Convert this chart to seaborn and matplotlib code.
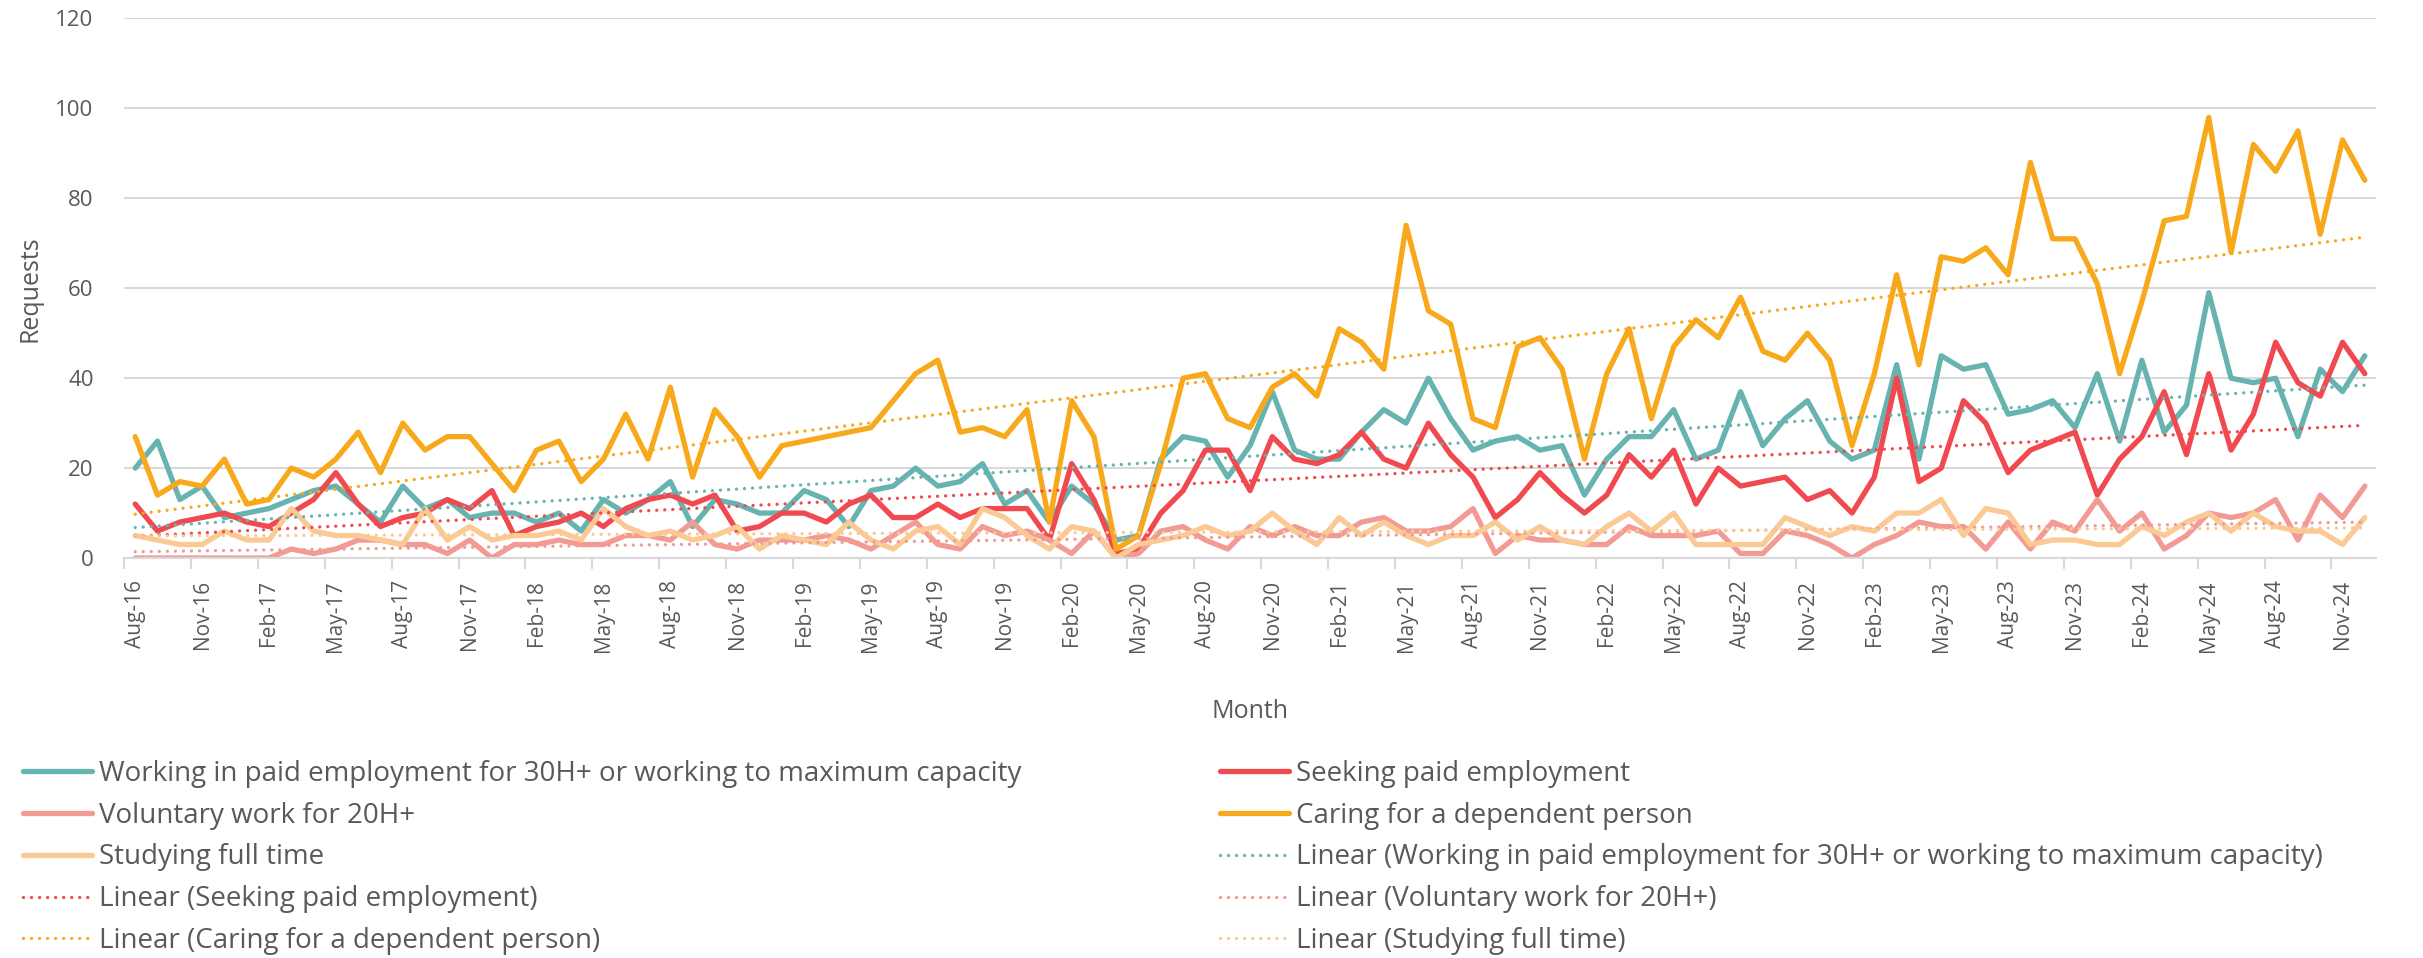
import numpy as np
import pandas as pd
import matplotlib
matplotlib.use("Agg")
import matplotlib.pyplot as plt
import seaborn as sns
from matplotlib.lines import Line2D


# ============================================================
# Data (monthly requests, Aug-16 .. Dec-24)
# ============================================================

months = pd.date_range("2016-08-01", "2024-12-01", freq="MS")
month_labels = [m.strftime("%b-%y") for m in months]

working = [20, 26, 13, 16, 9, 10, 11, 13, 15, 16, 12, 8, 16, 11, 13, 9, 10,
           10, 8, 10, 6, 13, 10, 13, 17, 7, 13, 12, 10, 10, 15, 13, 7, 15,
           16, 20, 16, 17, 21, 12, 15, 8, 16, 12, 4, 5, 22, 27, 26, 18, 25,
           37, 24, 22, 22, 28, 33, 30, 40, 31, 24, 26, 27, 24, 25, 14, 22, 27,
           27, 33, 22, 24, 37, 25, 31, 35, 26, 22, 24, 43, 22, 45, 42, 43, 32,
           33, 35, 29, 41, 26, 44, 28, 34, 59, 40, 39, 40, 27, 42, 37, 45]

seeking = [12, 6, 8, 9, 10, 8, 7, 10, 13, 19, 12, 7, 9, 10, 13, 11, 15,
           5, 7, 8, 10, 7, 11, 13, 14, 12, 14, 6, 7, 10, 10, 8, 12, 14,
           9, 9, 12, 9, 11, 11, 11, 4, 21, 13, 1, 2, 10, 15, 24, 24, 15,
           27, 22, 21, 23, 28, 22, 20, 30, 23, 18, 9, 13, 19, 14, 10, 14, 23,
           18, 24, 12, 20, 16, 17, 18, 13, 15, 10, 18, 40, 17, 20, 35, 30, 19,
           24, 26, 28, 14, 22, 27, 37, 23, 41, 24, 32, 48, 39, 36, 48, 41]

voluntary = [0, 0, 0, 0, 0, 0, 0, 2, 1, 2, 4, 4, 3, 3, 1, 4, 0,
             3, 3, 4, 3, 3, 5, 5, 4, 8, 3, 2, 4, 4, 4, 5, 4, 2,
             5, 8, 3, 2, 7, 5, 6, 4, 1, 6, 0, 1, 6, 7, 4, 2, 7,
             5, 7, 5, 5, 8, 9, 6, 6, 7, 11, 1, 5, 4, 4, 3, 3, 7,
             5, 5, 5, 6, 1, 1, 6, 5, 3, 0, 3, 5, 8, 7, 7, 2, 8,
             2, 8, 6, 13, 6, 10, 2, 5, 10, 9, 10, 13, 4, 14, 9, 16]

caring = [27, 14, 17, 16, 22, 12, 13, 20, 18, 22, 28, 19, 30, 24, 27, 27, 21,
          15, 24, 26, 17, 22, 32, 22, 38, 18, 33, 27, 18, 25, 26, 27, 28, 29,
          35, 41, 44, 28, 29, 27, 33, 8, 35, 27, 2, 5, 21, 40, 41, 31, 29,
          38, 41, 36, 51, 48, 42, 74, 55, 52, 31, 29, 47, 49, 42, 22, 41, 51,
          31, 47, 53, 49, 58, 46, 44, 50, 44, 25, 41, 63, 43, 67, 66, 69, 63,
          88, 71, 71, 61, 41, 57, 75, 76, 98, 68, 92, 86, 95, 72, 93, 84]

studying = [5, 4, 3, 3, 6, 4, 4, 11, 6, 5, 5, 4, 3, 11, 4, 7, 4,
            5, 5, 6, 4, 11, 7, 5, 6, 4, 5, 7, 2, 5, 4, 3, 8, 4,
            2, 6, 7, 3, 11, 9, 5, 2, 7, 6, 0, 3, 4, 5, 7, 5, 6,
            10, 6, 3, 9, 5, 8, 5, 3, 5, 5, 8, 4, 7, 4, 3, 7, 10,
            6, 10, 3, 3, 3, 3, 9, 7, 5, 7, 6, 10, 10, 13, 5, 11, 10,
            3, 4, 4, 3, 3, 7, 5, 8, 10, 6, 10, 7, 6, 6, 3, 9]

series_names = [
    "Working in paid employment for 30H+ or working to maximum capacity",
    "Seeking paid employment",
    "Voluntary work for 20H+",
    "Caring for a dependent person",
    "Studying full time",
]
series_values = [working, seeking, voluntary, caring, studying]
colours = ["#66B3B0", "#F04A50", "#F29A94", "#F8A91B", "#FBC993"]

# ============================================================
# Style
# ============================================================

sns.set_theme(style="white")
plt.rcParams["font.family"] = ["Open Sans", "DejaVu Sans"]
grey_text = "#595959"
grid_col = "#D9D9D9"

fig = plt.figure(figsize=(24.23, 9.58), dpi=100)
ax = fig.add_axes([0.0512, 0.4175, 0.9294, 0.5632])

idx = np.arange(len(months))

# ============================================================
# Series lines
# ============================================================

main_lw = 3.8
for vals, col in zip(series_values, colours):
    sns.lineplot(x=idx, y=vals, color=col, lw=main_lw, ax=ax)

# linear trend lines
dot_lw = 2.4
dot_style = (0, (0.01, 2.4))
for vals, col in zip(series_values, colours):
    sns.regplot(x=idx, y=np.array(vals, dtype=float), scatter=False, ci=None,
                color=col, ax=ax,
                line_kws=dict(ls=dot_style, lw=dot_lw, dash_capstyle="round"))

# ============================================================
# Axes
# ============================================================

ax.set_xlim(-0.5, len(months) - 0.5)
ax.set_ylim(0, 120)
ax.set_yticks(np.arange(0, 121, 20))
ax.yaxis.grid(True, color=grid_col, lw=1.5)
ax.set_axisbelow(True)
for side in ["top", "right", "left"]:
    ax.spines[side].set_visible(False)
ax.spines["bottom"].set_color(grid_col)
ax.spines["bottom"].set_linewidth(1.5)

ax.set_xticks(idx[::3])
ax.set_xticklabels(month_labels[::3], rotation=90)
ax.set_xticks(idx[::3] - 0.5, minor=True)
ax.tick_params(axis="x", which="major", length=0, pad=16,
               labelsize=15, labelcolor=grey_text)
ax.tick_params(axis="x", which="minor", length=8, width=1.5,
               color=grid_col, bottom=True)
ax.tick_params(axis="y", length=0, pad=22, labelsize=16, labelcolor=grey_text)

ax.set_ylabel("Requests", fontsize=18, color=grey_text)
ax.set_xlabel("Month", fontsize=18, color=grey_text)
ax.yaxis.set_label_coords(-0.036, 0.5)
ax.xaxis.set_label_coords(0.5, -0.262)

# ============================================================
# Legend (two columns, Excel row order)
# ============================================================

solid = [Line2D([], [], color=c, lw=main_lw) for c in colours]
trend = [Line2D([], [], color=c, lw=dot_lw, ls=dot_style, dash_capstyle="round")
         for c in colours]
handles = solid + trend
labels = series_names + [f"Linear ({n})" for n in series_names]

left_h, left_l = handles[0::2], labels[0::2]
right_h, right_l = handles[1::2], labels[1::2]

legend_kw = dict(loc="center left", frameon=False, fontsize=20,
                 labelcolor=grey_text, handlelength=2.5, handletextpad=0.25,
                 borderpad=0, borderaxespad=0, labelspacing=0.5)
fig.legend(left_h, left_l, bbox_to_anchor=(23 / 2423, 0.105), **legend_kw)
fig.legend(right_h, right_l, bbox_to_anchor=(1220 / 2423, 0.105), **legend_kw)

fig.savefig("out.png", dpi=100)
